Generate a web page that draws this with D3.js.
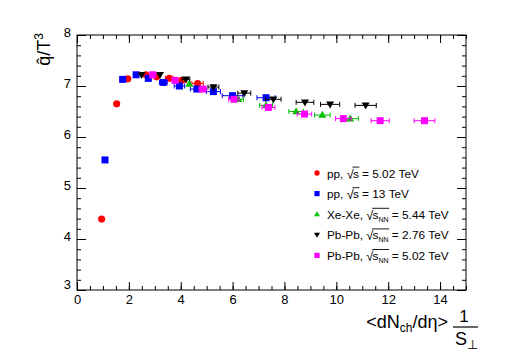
<!DOCTYPE html>
<html><head><meta charset="utf-8">
<script src="https://cdn.jsdelivr.net/npm/d3@7"></script>
<style>body{margin:0;background:#fff;} text{font-family:"Liberation Sans",Arial,sans-serif; white-space:pre;}</style>
</head><body>
<svg id="c" width="518" height="353"></svg>
<script>
// ---- data ----
const ppLowX  = [0.95,1.53,1.96,2.66,3.07,3.56,4.04,4.65];
const ppLowY  = [4.39,6.65,7.14,7.22,7.18,7.15,7.11,7.05];
const ppLowE  = [0.02,0.03,0.08,0.10,0.12,0.15,0.18,0.22];
const ppHighX = [1.08,1.76,2.28,2.75,3.33,3.95,4.62,5.26,6.00,7.29];
const ppHighY = [5.55,7.13,7.22,7.15,7.07,7.00,6.94,6.89,6.81,6.77];
const ppHighE = [0.02,0.05,0.08,0.10,0.15,0.20,0.25,0.27,0.40,0.35];
const xexeX   = [4.33,6.22,7.29,8.45,9.46,10.53];
const xexeY   = [7.04,6.74,6.62,6.50,6.43,6.36];
const xexeE   = [0.12,0.20,0.25,0.28,0.30,0.32];
const pb276X  = [2.49,3.20,4.20,5.26,6.45,7.57,8.79,9.76,11.13];
const pb276Y  = [7.22,7.22,7.13,6.98,6.86,6.74,6.68,6.64,6.62];
const pb276E  = [0.08,0.12,0.15,0.21,0.25,0.30,0.34,0.37,0.41];
const pb502X  = [2.92,3.78,4.85,6.05,7.38,8.77,10.27,11.69,13.40];
const pb502Y  = [7.22,7.11,6.94,6.74,6.58,6.45,6.36,6.32,6.32];
const pb502E  = [0.08,0.10,0.15,0.20,0.25,0.28,0.30,0.35,0.40];
const xTicks = [0,2,4,6,8,10,12,14];
const yTicks = [3,4,5,6,7,8];

const series = [
  {x:ppLowX, y:ppLowY, e:ppLowE, color:"#ff0000", sym:"circle", pre:"pp,\u00a0", rad:"s", sub:"", post:"\u00a0=\u00a05.02\u00a0TeV"},
  {x:ppHighX, y:ppHighY, e:ppHighE, color:"#0000ff", sym:"square", pre:"pp,\u00a0", rad:"s", sub:"", post:"\u00a0=\u00a013\u00a0TeV"},
  {x:xexeX, y:xexeY, e:xexeE, color:"#00c000", sym:"up", pre:"Xe-Xe,\u00a0", rad:"s", sub:"NN", post:"\u00a0=\u00a05.44\u00a0TeV"},
  {x:pb276X, y:pb276Y, e:pb276E, color:"#000000", sym:"down", pre:"Pb-Pb,\u00a0", rad:"s", sub:"NN", post:"\u00a0=\u00a02.76\u00a0TeV"},
  {x:pb502X, y:pb502Y, e:pb502E, color:"#ff00ff", sym:"square", pre:"Pb-Pb,\u00a0", rad:"s", sub:"NN", post:"\u00a0=\u00a05.02\u00a0TeV"}
];

const L=77, T=35, R=466, B=290;
const svg = d3.select("#c");
const x = d3.scaleLinear().domain([0,15]).range([L,R]);
const y = d3.scaleLinear().domain([3,8]).range([B,T]);

// frame
svg.append("rect").attr("x",L).attr("y",T).attr("width",R-L).attr("height",B-T)
  .attr("fill","none").attr("stroke","#000").attr("stroke-width",1);

// axes
const xMinor = d3.range(0,15.01,0.5);
const yMinor = d3.range(3,8.001,0.2);
const gx = svg.append("g").attr("transform",`translate(0,${B})`)
  .call(d3.axisBottom(x).tickValues(xTicks).tickFormat(d3.format("d")).tickSizeInner(-8).tickSizeOuter(0).tickPadding(5));
const gxm = svg.append("g").attr("transform",`translate(0,${B})`)
  .call(d3.axisBottom(x).tickValues(xMinor).tickFormat("").tickSizeInner(-4).tickSizeOuter(0));
const gxt = svg.append("g").attr("transform",`translate(0,${T})`)
  .call(d3.axisTop(x).tickValues(xTicks).tickFormat("").tickSizeInner(-8).tickSizeOuter(0));
const gxtm = svg.append("g").attr("transform",`translate(0,${T})`)
  .call(d3.axisTop(x).tickValues(xMinor).tickFormat("").tickSizeInner(-4).tickSizeOuter(0));
const gy = svg.append("g").attr("transform",`translate(${L},0)`)
  .call(d3.axisLeft(y).tickValues(yTicks).tickFormat(d3.format("d")).tickSizeInner(-9).tickSizeOuter(0).tickPadding(4));
const gym = svg.append("g").attr("transform",`translate(${L},0)`)
  .call(d3.axisLeft(y).tickValues(yMinor).tickFormat("").tickSizeInner(-4).tickSizeOuter(0));
const gyr = svg.append("g").attr("transform",`translate(${R},0)`)
  .call(d3.axisRight(y).tickValues(yTicks).tickFormat("").tickSizeInner(-9).tickSizeOuter(0));
const gyrm = svg.append("g").attr("transform",`translate(${R},0)`)
  .call(d3.axisRight(y).tickValues(yMinor).tickFormat("").tickSizeInner(-4).tickSizeOuter(0));
[gx,gxm,gxt,gxtm,gy,gym,gyr,gyrm].forEach(g=>{
  g.select(".domain").remove();
  g.selectAll("line").attr("stroke","#000");
  g.selectAll("text").attr("font-size",13).attr("fill","#000").style("font-family","Liberation Sans, Arial, sans-serif");
});
gy.selectAll("text").attr("dx",-2).attr("dy","0.1em");
gy.selectAll(".tick").filter(d=>d===3).select("text").attr("dy","-0.15em");

// markers
function sym(s){
  if(s==="circle") return d3.symbol(d3.symbolCircle,40)();
  if(s==="square") return "M-3.5,-3.5H3.5V3.5H-3.5Z";
  if(s==="up") return "M0,-4.2L4,2.8L-4,2.8Z";
  if(s==="down") return "M0,4.2L4,-2.8L-4,-2.8Z";
}
const plot = svg.append("g");
series.forEach(s=>{
  const g = plot.append("g");
  const pts = s.x.map((v,i)=>({x:v,y:s.y[i],e:s.e[i]}));
  pts.forEach(p=>{
    const x0=x(p.x-p.e), x1=x(p.x+p.e), yy=y(p.y);
    if(x1-x0>7){
      g.append("line").attr("x1",x0).attr("x2",x1).attr("y1",yy).attr("y2",yy).attr("stroke",s.color).attr("stroke-width",1);
      [x0,x1].forEach(xx=>g.append("line").attr("x1",xx).attr("x2",xx).attr("y1",yy-2.5).attr("y2",yy+2.5).attr("stroke",s.color).attr("stroke-width",1));
    }
  });
  g.selectAll("path").data(pts).join("path")
    .attr("d",sym(s.sym)).attr("fill",s.color)
    .attr("transform",d=>`translate(${x(d.x)},${y(d.y)})`);
});

// legend
const legX=317, legY0=173, legDY=20.6, fs=11.8;
series.forEach((s,i)=>{
  const yy = legY0 + i*legDY;
  const m = s.sym==="circle" ? d3.symbol(d3.symbolCircle,22)() :
            s.sym==="square" ? "M-2.6,-2.6H2.6V2.6H-2.6Z" :
            s.sym==="up" ? "M0,-3L3,2L-3,2Z" : "M0,3L3,-2L-3,-2Z";
  svg.append("path").attr("d",m).attr("fill",s.color).attr("transform",`translate(${legX},${yy})`);
  let cx = 327;
  const by = yy + 4.5;
  const t1 = svg.append("text").attr("x",cx).attr("y",by).attr("font-size",fs).text(s.pre);
  cx += t1.node().getComputedTextLength();
  const rs = svg.append("text").attr("x",cx).attr("y",by+1).attr("font-size",fs+1).text("√");
  const rw = rs.node().getComputedTextLength();
  const radStart = cx + rw - 1.2;
  cx += rw - 0.8;
  const t2 = svg.append("text").attr("x",cx).attr("y",by).attr("font-size",fs).text(s.rad);
  cx += t2.node().getComputedTextLength();
  if(s.sub){
    const t3 = svg.append("text").attr("x",cx).attr("y",by+3).attr("font-size",7).text(s.sub);
    cx += t3.node().getComputedTextLength();
  }
  svg.append("line").attr("x1",radStart).attr("x2",cx+0.5).attr("y1",by-10.4).attr("y2",by-10.4)
    .attr("stroke","#000").attr("stroke-width",0.9);
  svg.append("text").attr("x",cx).attr("y",by).attr("font-size",fs).text(s.post);
});

// y axis title
const yt = svg.append("text").attr("transform","translate(50,33) rotate(-90)")
  .attr("text-anchor","end").attr("font-size",18);
yt.append("tspan").text("q\u0302/T");
yt.append("tspan").attr("font-size",12).attr("dy",-7).text("3");

// x axis title
const xt = svg.append("text").attr("x",448).attr("y",328).attr("text-anchor","end").attr("font-size",18);
xt.append("tspan").text("<dN");
xt.append("tspan").attr("font-size",12).attr("dy",4).text("ch");
xt.append("tspan").attr("dy",-4).text("/d\u03b7>");
svg.append("text").attr("x",464).attr("y",322).attr("text-anchor","middle").attr("font-size",17).text("1");
svg.append("line").attr("x1",453).attr("x2",478).attr("y1",327).attr("y2",327).attr("stroke","#000").attr("stroke-width",1.2);
svg.append("text").attr("x",455).attr("y",345).attr("font-size",18).text("S");
svg.append("text").attr("x",467).attr("y",349).attr("font-size",13).text("\u22a5");
</script>
</body></html>
